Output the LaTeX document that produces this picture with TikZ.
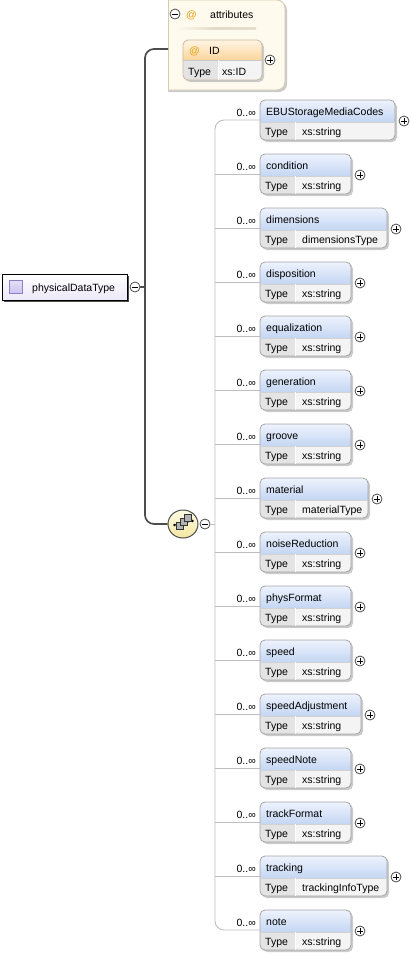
\documentclass[tikz,border=0pt]{standalone}
\usepackage{fontspec}
\setmainfont{Liberation Sans}
\usetikzlibrary{shapes.geometric}
\definecolor{hdtop}{HTML}{EEF3FD}
\definecolor{hdbot}{HTML}{C4D6F3}
\definecolor{typecell}{HTML}{E4E4E4}
\definecolor{valcell}{HTML}{F4F4F4}
\definecolor{boxborder}{HTML}{A4A4A4}
\definecolor{shadowgray}{HTML}{CBCBCB}
\definecolor{idtop}{HTML}{FFF5E4}
\definecolor{idbot}{HTML}{FBD59C}
\definecolor{idborder}{HTML}{C8B89C}
\definecolor{attrfill}{HTML}{FFFAEE}
\definecolor{attrborder}{HTML}{D5CAB2}
\definecolor{childline}{HTML}{BEBEBE}
\definecolor{rootline}{HTML}{4C4C4C}
\definecolor{rootbot}{HTML}{ECE8F8}
\definecolor{rooticon}{HTML}{CDC3EE}
\definecolor{rooticonb}{HTML}{8E7FC4}
\definecolor{atcol}{HTML}{E8A010}
\definecolor{seqtop}{HTML}{FFFDE6}
\definecolor{seqbot}{HTML}{F3E6A2}
\tikzset{
  txt/.style={font=\fontsize{10.5}{12}\selectfont, inner sep=0pt, anchor=base west, text=black},
  card/.style={font=\fontsize{10.5}{12}\selectfont, inner sep=0pt, anchor=base east, text=black},
  pmc/.style={circle, draw=rootline, fill=white, minimum size=10pt, inner sep=0pt, line width=0.8pt},
  pmbar/.style={draw=black, line width=0.9pt},
  childconn/.style={draw=childline, line width=0.9pt},
  rootconn/.style={draw=rootline, line width=1.7pt},
  holder/.style={inner sep=0pt, outer sep=0pt, anchor=north west},
  seqsq/.style={fill=gray!60, draw=black!80, line width=0.6pt}
}
\newcommand{\xsminus}[3]{\node[pmc] (#1) at (#2,#3) {};
  \draw[pmbar] ([xshift=-2.6pt]#1.center) -- ([xshift=2.6pt]#1.center);}
\newcommand{\xsplus}[3]{\node[pmc] (#1) at (#2,#3) {};
  \draw[pmbar] ([xshift=-2.6pt]#1.center) -- ([xshift=2.6pt]#1.center);
  \draw[pmbar] ([yshift=-2.6pt]#1.center) -- ([yshift=2.6pt]#1.center);}
\begin{document}
\begin{tikzpicture}[x=1pt,y=-1pt]
\useasboundingbox (0,0) rectangle (410,956);
% ---------- attributes container ----------
\begin{scope}
  \clip (168,-5) rectangle (300,100);
  \fill[shadowgray, rounded corners=8pt] (150,2) rectangle (287,92);
  \draw[draw=attrborder, fill=attrfill, line width=0.9pt, rounded corners=8pt] (150,0) rectangle (285,90);
\end{scope}
\draw[attrborder, line width=0.9pt] (168,0) -- (168,90);
\node[holder, minimum width=117pt, minimum height=90pt] (attr) at (168,0) {};
\xsminus{attrpm}{175}{14}
\node[txt, text=atcol] (attrat) at (186,18) {@};
\node[txt] (attrlbl) at (210,18) {attributes};
\shade[left color=attrfill, right color=attrborder!60, middle color=attrborder!70] (176,27.5) rectangle (256,29);
% ID attribute
\fill[shadowgray, rounded corners=5pt] (185,42) rectangle (264,82);
\begin{scope}
  \clip[rounded corners=5pt] (183,40) rectangle (262,80);
  \shade[top color=idtop, bottom color=idbot] (183,40) rectangle (262,60);
  \fill[typecell] (183,60) rectangle (218,80);
  \fill[valcell] (218,60) rectangle (262,80);
\end{scope}
\draw[idborder, line width=0.8pt, rounded corners=5pt] (183,40) rectangle (262,80);
\draw[boxborder!60, line width=0.6pt] (183,60) -- (262,60);
\draw[white, line width=0.8pt] (218,60) -- (218,80);
\node[holder, minimum width=79pt, minimum height=40pt] (idbox) at (183,40) {};
\node[txt, text=atcol] (idat) at (189,54) {@};
\node[txt] (idname) at (209,54) {ID};
\node[txt] (idtype) at (188,75) {Type};
\node[txt] (idval) at (222,75) {xs:ID};
\xsplus{idpm}{270}{60}
% ---------- root ----------
\fill[black!70] (4,276) rectangle (129,302);
\shade[top color=white, bottom color=rootbot] (2,274) rectangle (127,300);
\draw[black, line width=0.8pt] (2,274) rectangle (127,300);
\node[holder, minimum width=125pt, minimum height=26pt] (root) at (2,274) {};
\shade[top color=rooticon!50, bottom color=rooticon, draw=rooticonb, line width=0.7pt] (9,280) rectangle (22,293);
\node[txt] (rootlbl) at (32,291) {physicalDataType};
\xsminus{rootpm}{135}{287}
% ---------- sequence ----------
\coordinate (attrin) at (168,49);
\node[ellipse, minimum width=30pt, minimum height=28pt, inner sep=0pt, draw=rootline, line width=1pt, top color=seqtop, bottom color=seqbot] (seq) at (183,524) {};
\draw[rootconn, rounded corners=9pt] (attrin) -| (145,287) |- (seq.west);
\draw[rootconn] (rootpm.east) -- (145,287);
% icon inside sequence
\draw[black!85, line width=0.9pt] (174.5,525) -- (192.5,521);
\fill[black] (174.5,525) circle (1.4pt);
\fill[black] (192.5,521) circle (1.4pt);
\draw[seqsq] (176.5,522.5) rectangle (183.5,529.5);
\draw[seqsq] (180.5,518.5) rectangle (187.5,525.5);
\draw[seqsq] (184.5,514.5) rectangle (191.5,521.5);
\xsminus{seqpm}{205}{524}
\coordinate (seqjoin) at (215,524);
\draw[childconn] (seqpm.east) -- (seqjoin);
% ---------- children ----------
\foreach \i/\nm/\ty/\R in {0/EBUStorageMediaCodes/xs:string/395, 1/condition/xs:string/351, 2/dimensions/dimensionsType/387, 3/disposition/xs:string/351, 4/equalization/xs:string/351, 5/generation/xs:string/351, 6/groove/xs:string/351, 7/material/materialType/368, 8/noiseReduction/xs:string/351, 9/physFormat/xs:string/351, 10/speed/xs:string/351, 11/speedAdjustment/xs:string/361, 12/speedNote/xs:string/351, 13/trackFormat/xs:string/351, 14/tracking/trackingInfoType/387, 15/note/xs:string/351} {
  \pgfmathsetmacro\T{100+54*\i}
  \pgfmathsetmacro\W{\R-260}
  \fill[shadowgray, rounded corners=5pt] (262,\T+2) rectangle (\R+2,\T+42);
  \begin{scope}
    \clip[rounded corners=5pt] (260,\T) rectangle (\R,\T+40);
    \shade[top color=hdtop, bottom color=hdbot] (260,\T) rectangle (\R,\T+22);
    \fill[typecell] (260,\T+22) rectangle (295,\T+40);
    \fill[valcell] (295,\T+22) rectangle (\R,\T+40);
  \end{scope}
  \draw[boxborder, line width=0.8pt, rounded corners=5pt] (260,\T) rectangle (\R,\T+40);
  \draw[boxborder!50, line width=0.6pt] (260,\T+22) -- (\R,\T+22);
  \draw[white, line width=0.8pt] (295,\T+22) -- (295,\T+40);
  \node[holder, minimum width=\W pt, minimum height=40pt] (e\i) at (260,\T) {};
  \node[txt] (n\i) at (266,\T+15) {\nm};
  \node[txt] (t\i) at (265,\T+35.5) {Type};
  \node[txt] (v\i) at (302,\T+35.5) {\ty};
  \node[card] (c\i) at (256,\T+16.5) {0..∞};
  \xsplus{p\i}{\R+9}{\T+21}
}
\draw[childconn, rounded corners=9pt] (e0.west) -| (seqjoin) |- (e15.west);
\foreach \i in {1,...,14} {
  \draw[childconn] (e\i.west -| seqjoin) -- (e\i.west);
}
\end{tikzpicture}
\end{document}
